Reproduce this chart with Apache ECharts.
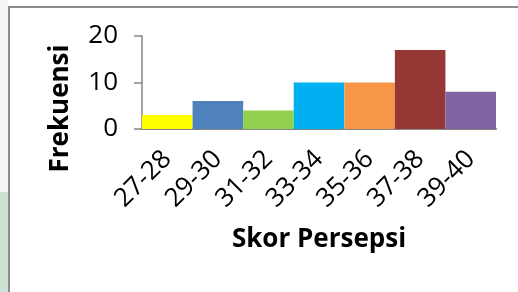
<!DOCTYPE html>
<html><head><meta charset="utf-8">
<script src="https://cdn.jsdelivr.net/npm/echarts@6/dist/echarts.min.js"></script>
<style>html,body{margin:0;padding:0;background:#fff}#c{width:518px;height:292px}</style>
</head><body><div id="c"></div>
<script>
const categories = ['27-28','29-30','31-32','33-34','35-36','37-38','39-40'];
const frequencies = [3, 6, 4, 10, 10, 17, 8];
const barColors = ['#FFFF00','#4F81BD','#92D050','#00B0F0','#F79646','#953735','#8064A2'];
const yTicks = { min: 0, max: 20, interval: 10 };

const chart = echarts.init(document.getElementById('c'), null, {renderer:'canvas'});
const font = '"Open Sans", sans-serif';
chart.setOption({
  animation: false,
  backgroundColor: '#fff',
  graphic: [
    {type:'rect', shape:{x:0,y:0,width:8,height:192}, style:{fill:'#f3f5f3'}, silent:true, z:-10},
    {type:'rect', shape:{x:0,y:192,width:8,height:100}, style:{fill:'#cfe0d5'}, silent:true, z:-10},
    {type:'rect', shape:{x:9,y:7,width:700,height:500}, style:{fill:'none', stroke:'#8c8c8c', lineWidth:2}, silent:true, z:-5}
  ],
  grid: {left:142, right:22, top:36, bottom:163, containLabel:false},
  xAxis: {
    type:'category', data: categories,
    axisLine:{show:true, lineStyle:{color:'#868686', width:2}},
    axisTick:{show:false},
    axisLabel:{rotate:45, fontSize:26, fontFamily:font, color:'#000', margin:26, interval:0},
    name:'Skor Persepsi', nameLocation:'middle', nameGap:98, nameMoveOverlap:false,
    nameTextStyle:{fontSize:26, fontWeight:'bold', fontFamily:font, color:'#000'}
  },
  yAxis: {
    type:'value', min:yTicks.min, max:yTicks.max, interval:yTicks.interval,
    axisLine:{show:true, lineStyle:{color:'#868686', width:1.5}},
    axisTick:{show:true, length:8, lineStyle:{color:'#868686', width:1.5}},
    splitLine:{show:false},
    axisLabel:{fontSize:26, fontFamily:font, color:'#000', margin:24},
    name:'Frekuensi', nameLocation:'middle', nameGap:68, nameRotate:90, nameMoveOverlap:false,
    nameTextStyle:{fontSize:26, fontWeight:'bold', fontFamily:font, color:'#000', padding:[0,52,0,0]}
  },
  series: [{
    type:'bar', barCategoryGap:'0%',
    data: frequencies.map((v,i)=>({value:v, itemStyle:{color:barColors[i]}}))
  }]
});
</script></body></html>
